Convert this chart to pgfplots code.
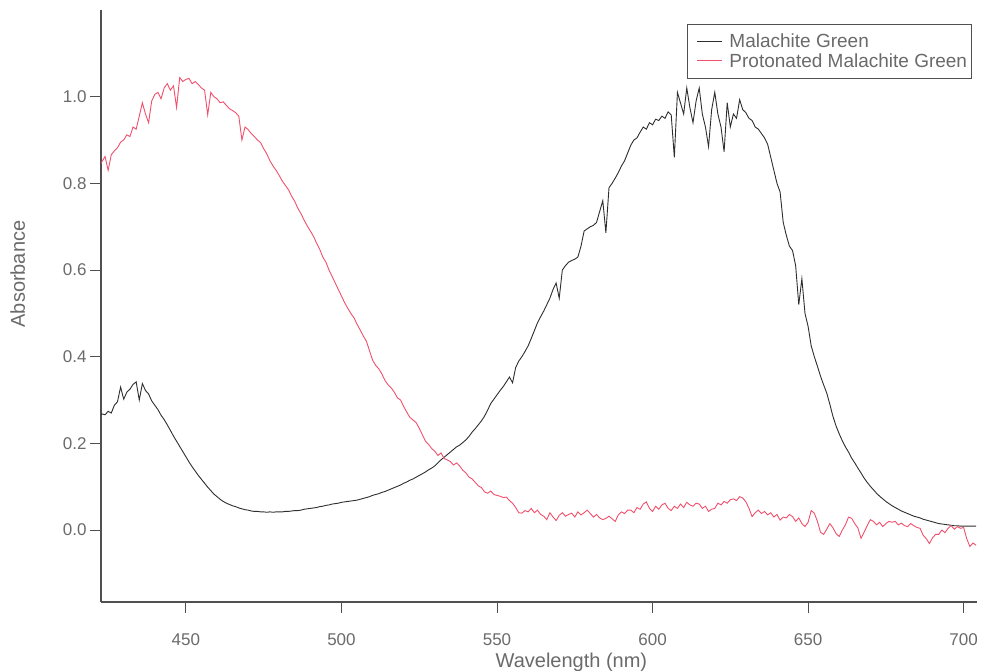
\documentclass[border=0pt]{standalone}
\usepackage{fontspec}
\setmainfont{Liberation Sans}
\usepackage{pgfplots}
\usepackage{pgfplotstable}
\pgfplotsset{compat=1.18}

\definecolor{axisgray}{HTML}{505050}
\definecolor{labelgray}{HTML}{6A6A6A}
\definecolor{mgdark}{HTML}{2E2E2E}
\definecolor{mgred}{HTML}{F0506C}

% Absorbance of malachite green (nm, A)
\pgfplotstableread{
wl A
422 0.262
423 0.268
424 0.266
425 0.274
426 0.270
427 0.288
428 0.296
429 0.330
430 0.302
431 0.318
432 0.325
433 0.336
434 0.342
435 0.300
436 0.338
437 0.322
438 0.314
439 0.298
440 0.288
441 0.278
442 0.265
443 0.255
444 0.243
445 0.230
446 0.217
447 0.205
448 0.193
449 0.181
450 0.169
451 0.157
452 0.146
453 0.136
454 0.126
455 0.117
456 0.108
457 0.099
458 0.091
459 0.083
460 0.077
461 0.071
462 0.066
463 0.062
464 0.059
465 0.056
466 0.054
467 0.051
468 0.049
469 0.047
470 0.046
471 0.044
472 0.043
473 0.043
474 0.042
475 0.042
476 0.041
477 0.042
478 0.041
479 0.042
480 0.042
481 0.042
482 0.043
483 0.043
484 0.044
485 0.045
486 0.045
487 0.046
488 0.048
489 0.049
490 0.050
491 0.051
492 0.052
493 0.054
494 0.055
495 0.057
496 0.058
497 0.060
498 0.061
499 0.062
500 0.064
501 0.065
502 0.066
503 0.067
504 0.068
505 0.069
506 0.071
507 0.073
508 0.075
509 0.077
510 0.080
511 0.082
512 0.084
513 0.087
514 0.089
515 0.092
516 0.095
517 0.098
518 0.101
519 0.104
520 0.108
521 0.111
522 0.115
523 0.118
524 0.122
525 0.126
526 0.130
527 0.134
528 0.139
529 0.143
530 0.148
531 0.155
532 0.162
533 0.168
534 0.174
535 0.180
536 0.186
537 0.192
538 0.196
539 0.202
540 0.208
541 0.216
542 0.226
543 0.234
544 0.243
545 0.252
546 0.263
547 0.277
548 0.292
549 0.302
550 0.312
551 0.322
552 0.331
553 0.342
554 0.353
555 0.340
556 0.375
557 0.390
558 0.400
559 0.412
560 0.425
561 0.442
562 0.460
563 0.478
564 0.492
565 0.505
566 0.520
567 0.535
568 0.555
569 0.570
570 0.535
571 0.600
572 0.610
573 0.618
574 0.622
575 0.625
576 0.630
577 0.655
578 0.690
579 0.695
580 0.700
581 0.703
582 0.710
583 0.735
584 0.760
585 0.686
586 0.790
587 0.800
588 0.812
589 0.825
590 0.840
591 0.852
592 0.870
593 0.888
594 0.900
595 0.905
596 0.918
597 0.930
598 0.925
599 0.940
600 0.935
601 0.948
602 0.945
603 0.955
604 0.950
605 0.965
606 0.958
607 0.860
608 1.010
609 0.985
610 0.960
611 1.020
612 0.975
613 0.940
614 0.990
615 1.020
616 0.960
617 0.930
618 0.885
619 0.970
620 1.010
621 0.960
622 0.930
623 0.873
624 0.986
625 0.930
626 0.960
627 0.950
628 0.993
629 0.970
630 0.963
631 0.950
632 0.945
633 0.930
634 0.925
635 0.915
636 0.905
637 0.890
638 0.860
639 0.830
640 0.800
641 0.780
642 0.710
643 0.680
644 0.655
645 0.645
646 0.610
647 0.520
648 0.580
649 0.500
650 0.470
651 0.425
652 0.400
653 0.378
654 0.355
655 0.335
656 0.316
657 0.290
658 0.262
659 0.240
660 0.222
661 0.206
662 0.192
663 0.180
664 0.166
665 0.155
666 0.143
667 0.132
668 0.120
669 0.110
670 0.101
671 0.093
672 0.085
673 0.078
674 0.072
675 0.066
676 0.061
677 0.056
678 0.052
679 0.048
680 0.044
681 0.041
682 0.038
683 0.035
684 0.032
685 0.030
686 0.028
687 0.025
688 0.023
689 0.021
690 0.019
691 0.017
692 0.015
693 0.014
694 0.013
695 0.012
696 0.011
697 0.010
698 0.010
699 0.009
700 0.009
701 0.009
702 0.009
703 0.009
704 0.009
}\malachite

% Absorbance of the protonated form (nm, A)
\pgfplotstableread{
wl A
422 0.840
423 0.850
424 0.862
425 0.830
426 0.866
427 0.875
428 0.882
429 0.895
430 0.900
431 0.912
432 0.908
433 0.930
434 0.925
435 0.955
436 0.986
437 0.960
438 0.940
439 0.990
440 1.005
441 1.010
442 0.995
443 1.020
444 1.030
445 1.015
446 1.025
447 0.975
448 1.044
449 1.035
450 1.040
451 1.042
452 1.030
453 1.035
454 1.028
455 1.020
456 1.015
457 0.958
458 1.010
459 1.000
460 0.995
461 0.986
462 0.988
463 0.980
464 0.972
465 0.968
466 0.963
467 0.955
468 0.900
469 0.930
470 0.924
471 0.915
472 0.908
473 0.900
474 0.894
475 0.880
476 0.868
477 0.852
478 0.840
479 0.830
480 0.818
481 0.805
482 0.795
483 0.785
484 0.770
485 0.758
486 0.742
487 0.730
488 0.715
489 0.702
490 0.690
491 0.678
492 0.662
493 0.648
494 0.630
495 0.618
496 0.600
497 0.585
498 0.570
499 0.555
500 0.540
501 0.525
502 0.512
503 0.500
504 0.490
505 0.475
506 0.462
507 0.448
508 0.436
509 0.414
510 0.392
511 0.380
512 0.372
513 0.360
514 0.345
515 0.335
516 0.328
517 0.318
518 0.305
519 0.300
520 0.285
521 0.272
522 0.260
523 0.254
524 0.248
525 0.235
526 0.220
527 0.205
528 0.198
529 0.188
530 0.182
531 0.172
532 0.178
533 0.165
534 0.162
535 0.158
536 0.150
537 0.155
538 0.148
539 0.138
540 0.132
541 0.122
542 0.118
543 0.110
544 0.102
545 0.098
546 0.088
547 0.085
548 0.090
549 0.082
550 0.080
551 0.078
552 0.075
553 0.076
554 0.068
555 0.062
556 0.052
557 0.040
558 0.039
559 0.045
560 0.042
561 0.050
562 0.040
563 0.046
564 0.036
565 0.032
566 0.024
567 0.040
568 0.030
569 0.022
570 0.034
571 0.040
572 0.032
573 0.036
574 0.039
575 0.030
576 0.042
577 0.035
578 0.040
579 0.046
580 0.038
581 0.030
582 0.036
583 0.028
584 0.024
585 0.027
586 0.032
587 0.026
588 0.020
589 0.035
590 0.042
591 0.038
592 0.046
593 0.046
594 0.040
595 0.052
596 0.048
597 0.060
598 0.065
599 0.050
600 0.043
601 0.055
602 0.048
603 0.058
604 0.062
605 0.050
606 0.045
607 0.055
608 0.050
609 0.060
610 0.052
611 0.064
612 0.058
613 0.055
614 0.062
615 0.060
616 0.050
617 0.055
618 0.043
619 0.048
620 0.050
621 0.062
622 0.058
623 0.066
624 0.062
625 0.070
626 0.072
627 0.068
628 0.077
629 0.074
630 0.065
631 0.050
632 0.031
633 0.040
634 0.046
635 0.038
636 0.043
637 0.035
638 0.040
639 0.030
640 0.036
641 0.023
642 0.030
643 0.028
644 0.036
645 0.031
646 0.020
647 0.028
648 0.015
649 0.008
650 0.018
651 0.045
652 0.039
653 0.020
654 -0.005
655 -0.010
656 0.002
657 0.015
658 0.005
659 -0.008
660 -0.015
661 0.000
662 0.012
663 0.030
664 0.027
665 0.015
666 0.005
667 -0.019
668 -0.005
669 0.010
670 0.024
671 0.020
672 0.012
673 0.018
674 0.008
675 0.015
676 0.020
677 0.018
678 0.020
679 0.012
680 0.016
681 0.010
682 0.008
683 0.015
684 0.010
685 0.006
686 0.004
687 -0.012
688 -0.020
689 -0.031
690 -0.018
691 -0.010
692 -0.010
693 0.000
694 -0.006
695 0.004
696 0.010
697 0.002
698 0.008
699 0.004
700 0.006
701 -0.020
702 -0.038
703 -0.030
704 -0.035
}\protonated

\begin{document}
\begin{tikzpicture}[x=1pt,y=1pt]
\path[use as bounding box] (0,0) rectangle (984,671);
\begin{axis}[
  at={(101pt,69pt)}, anchor=south west,
  scale only axis, width=876pt, height=592pt,
  xmin=422.7, xmax=704.3, ymin=-0.166, ymax=1.20,
  axis x line*=bottom, axis y line*=left,
  axis line style={axisgray, line width=1.1pt},
  tick align=outside, major tick length=11pt,
  tick style={axisgray, line width=0.9pt},
  xtick={450,500,550,600,650,700},
  ytick={0,0.2,0.4,0.6,0.8,1.0},
  minor tick num=0,
  /pgf/number format/assume math mode=true,
  yticklabel style={/pgf/number format/.cd, fixed, fixed zerofill, precision=1},
  tick label style={font=\fontsize{17}{17}\selectfont, text=labelgray},
  xticklabel style={yshift=-17pt, /pgf/number format/1000 sep={}},
  xlabel={Wavelength (nm)},
  ylabel={Absorbance},
  label style={font=\fontsize{20}{20}\selectfont, text=labelgray},
  xlabel style={at={(axis description cs:0.537,0)}, anchor=north, yshift=-47pt},
  ylabel style={at={(axis description cs:-0.095,0.554)}, anchor=center},
  legend style={at={(rel axis cs:0.669,0.977)}, anchor=north west,
    draw=axisgray, line width=0.8pt, fill=white,
    font=\fontsize{19}{21}\selectfont, text=labelgray,
    inner xsep=2pt, inner ysep=8pt, row sep=0pt},
  legend cell align=left,
  legend image code/.code={%
    \path[draw=none, fill=none] (0pt,0pt) -- (38pt,0pt);
    \draw[#1, line width=1pt] (8pt,0pt) -- (33pt,0pt);},
]
\addplot[mgdark, line width=0.9pt] table[x=wl, y=A] {\malachite};
\addlegendentry{Malachite Green}
\addplot[mgred, line width=0.9pt] table[x=wl, y=A] {\protonated};
\addlegendentry{Protonated Malachite Green}
\end{axis}
\end{tikzpicture}
\end{document}
